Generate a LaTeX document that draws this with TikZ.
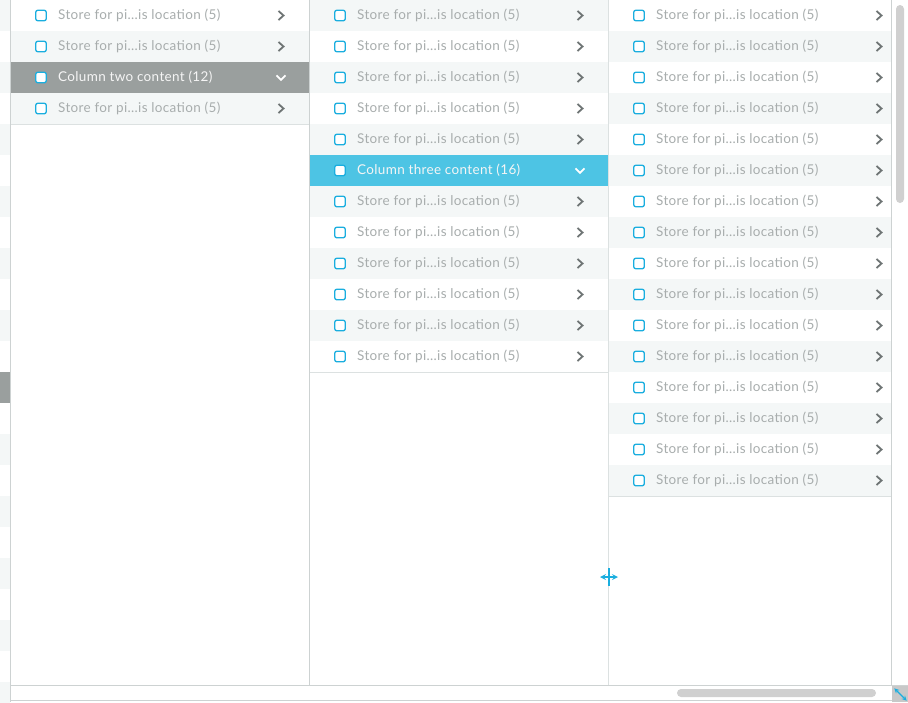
\documentclass[tikz,border=0pt]{standalone}
\usepackage{fontspec}
\setmainfont{Lato}[LetterSpace=2.5]
\usepackage{tikz}
\usetikzlibrary{arrows}

\definecolor{rowline}{HTML}{DCE1E1}
\definecolor{colline}{HTML}{CDD2D2}
\definecolor{rowlight}{HTML}{F4F7F7}
\definecolor{selgray}{HTML}{9A9F9E}
\definecolor{selblue}{HTML}{4DC4E4}
\definecolor{boxblue}{HTML}{1AAEDF}
\definecolor{itemgray}{HTML}{A8ADAD}
\definecolor{chevgray}{HTML}{6E7474}
\definecolor{bargray}{HTML}{D0D0D0}

\begin{document}
\begin{tikzpicture}[x=1pt, y=-1pt]
    % Styles
    \tikzstyle{rowbox} = [rectangle, inner sep=0pt, minimum height=31pt, anchor=north west]
    \tikzstyle{checkbox} = [rectangle, draw=boxblue, line width=1.3pt, rounded corners=2pt, minimum size=10.5pt, inner sep=0pt]
    \tikzstyle{itemtext} = [anchor=west, inner sep=0pt, font=\fontsize{13.5}{15}\selectfont, text=itemgray]
    \tikzstyle{chev} = [line width=1.8pt, chevgray]
    \tikzstyle{sep} = [line width=1pt, rowline]
    \tikzstyle{cursor} = [line width=1.6pt, boxblue]

    \useasboundingbox (0,0) rectangle (908,702);

    % Left strip
    \foreach \i in {0,...,22}{
        \pgfmathtruncatemacro{\odd}{mod(\i,2)}
        \ifnum\odd=0 \def\rf{rowlight}\else\def\rf{white}\fi
        \ifnum\i=12 \def\rf{selgray}\fi
        \node[rowbox, minimum width=10pt, fill=\rf] (s\i) at (0,31*\i) {};
        \draw[sep] (s\i.south west) -- (s\i.south east);
    }

    % Columns
    \foreach \c/\xa/\w/\n/\p/\s/\sc/\vx/\stxt in {
        1/11/298/4/0/2/selgray/281/{Column two content (12)},
        2/310/298/12/1/5/selblue/580/{Column three content (16)},
        3/609/282/16/0/-1/white/879/{}}{
        \pgfmathtruncatemacro{\last}{\n-1}
        \foreach \i in {0,...,\last}{
            \pgfmathtruncatemacro{\odd}{mod(\i+\p,2)}
            \ifnum\odd=1 \def\rf{rowlight}\else\def\rf{white}\fi
            \coordinate (c\c v\i) at (\vx,31*\i+15.5);
            \ifnum\i=\s
                \node[rowbox, minimum width=\w pt, fill=\sc] (c\c r\i) at (\xa,31*\i) {};
                \node[checkbox, fill=white] (c\c b\i) at (\xa+30,31*\i+15.5) {};
                \node[itemtext, text=white!92!gray] (c\c t\i) at (\xa+47,31*\i+15.5) {\stxt};
                \draw[chev, white] ([shift={(-4.5,-2.2)}]c\c v\i) -- ([shift={(0,2.3)}]c\c v\i) -- ([shift={(4.5,-2.2)}]c\c v\i);
            \else
                \node[rowbox, minimum width=\w pt, fill=\rf] (c\c r\i) at (\xa,31*\i) {};
                \node[checkbox, fill=white] (c\c b\i) at (\xa+30,31*\i+15.5) {};
                \node[itemtext] (c\c t\i) at (\xa+47,31*\i+15.5) {Store for pi...is location (5)};
                \draw[chev] ([shift={(-2.5,-4.5)}]c\c v\i) -- ([shift={(2.5,0)}]c\c v\i) -- ([shift={(-2.5,4.5)}]c\c v\i);
            \fi
            \draw[sep] (c\c r\i.south west) -- (c\c r\i.south east);
        }
    }

    % Frame and dividers
    \draw[line width=1pt, colline] (10.5,0) -- (10.5,702);
    \draw[line width=1pt, colline] (309.5,0) -- (309.5,685);
    \draw[line width=1pt, rowline] (608.5,0) -- (608.5,685);
    \draw[line width=1pt, colline] (891.5,0) -- (891.5,686);
    \draw[line width=1pt, colline] (10,685.5) -- (908,685.5);
    \draw[line width=1pt, colline] (10,700.5) -- (892,700.5);

    % Scrollbars
    \fill[bargray, rounded corners=4pt] (896,5) rectangle (904,203);
    \fill[bargray, rounded corners=4pt] (677,689) rectangle (876,697);
    \fill[bargray!90!gray] (892,686) rectangle (908,702);
    \draw[line width=1.2pt, boxblue, <->, >=stealth, shorten <=-1pt, shorten >=-1pt] (895,689) -- (906,700);

    % Resize cursor
    \draw[cursor] (609,568) -- (609,586);
    \draw[cursor, <->, >=stealth] (600,577) -- (618,577);
\end{tikzpicture}
\end{document}
